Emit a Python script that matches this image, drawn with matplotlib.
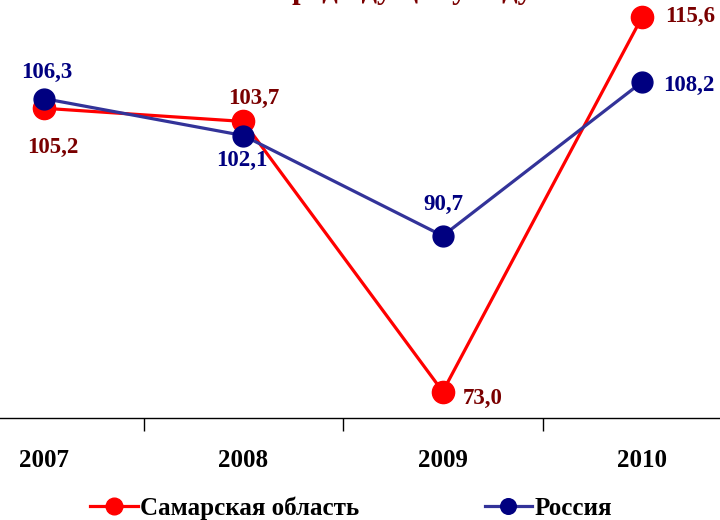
import matplotlib
matplotlib.use("Agg")
import matplotlib.pyplot as plt

years = ["2007", "2008", "2009", "2010"]
samara = [105.2, 103.7, 73.0, 115.6]
russia = [106.3, 102.1, 90.7, 108.2]
samara_lbl = ["105,2", "103,7", "73,0", "115,6"]
russia_lbl = ["106,3", "102,1", "90,7", "108,2"]
title = "в % к предыдущему году"

plt.rcParams['font.family'] = ['Liberation Serif', 'DejaVu Serif']

dark_red = '#7a0000'
navy = '#000080'

fig = plt.figure(figsize=(7.2, 5.2), dpi=100)
# plot area is wider than the picture (chart was cropped)
ax = fig.add_axes([-56/720, 1 - 418/520, 798/720, 440/520])
ax.patch.set_alpha(0)

x = list(range(len(years)))
ax.plot(x, samara, color='#ff0000', lw=2.3, marker='o', ms=16,
        mfc='#ff0000', mec='#ff0000', label='Самарская область', zorder=3)
ax.plot(x, russia, color='#333399', lw=2.3, marker='o', ms=15,
        mfc=navy, mec=navy, label='Россия', zorder=4)

s_off = [(9, -39), (10, 23), (40, -7), (48, 0)]
r_off = [(3, 26), (-1, -25), (1, 31), (47, -4)]
for i in x:
    ax.annotate(samara_lbl[i], (i, samara[i]), xytext=s_off[i], textcoords='offset pixels',
                ha='center', va='center', color=dark_red, fontsize=16.5, fontweight='bold')
    ax.annotate(russia_lbl[i], (i, russia[i]), xytext=r_off[i], textcoords='offset pixels',
                ha='center', va='center', color=navy, fontsize=16.5, fontweight='bold')

ax.set_xlim(-0.5, 3.5)
ax.set_ylim(70, 120)
ax.set_xticks(x)
ax.set_xticklabels(years, fontsize=18, fontweight='bold')
ax.set_xticks([0.5, 1.5, 2.5], minor=True)
ax.tick_params(axis='x', which='major', length=0, pad=22)
ax.tick_params(axis='x', which='minor', length=9, width=1, direction='out', color='black')
ax.set_yticks([])
for s in ['top', 'left', 'right']:
    ax.spines[s].set_visible(False)
ax.spines['bottom'].set_color('black')
ax.spines['bottom'].set_linewidth(1)

leg = fig.legend(loc='center', bbox_to_anchor=(0.488, 1 - 508/520), ncol=2, frameon=False,
                 prop={'size': 18, 'weight': 'bold'}, handlelength=1.9, handletextpad=0.1,
                 columnspacing=5.0, markerscale=0.75)

fig.text(0.5, 1.004, title, ha='center', va='baseline', color=dark_red,
         fontsize=22, fontweight='bold')

fig.savefig('out.png', dpi=100)
